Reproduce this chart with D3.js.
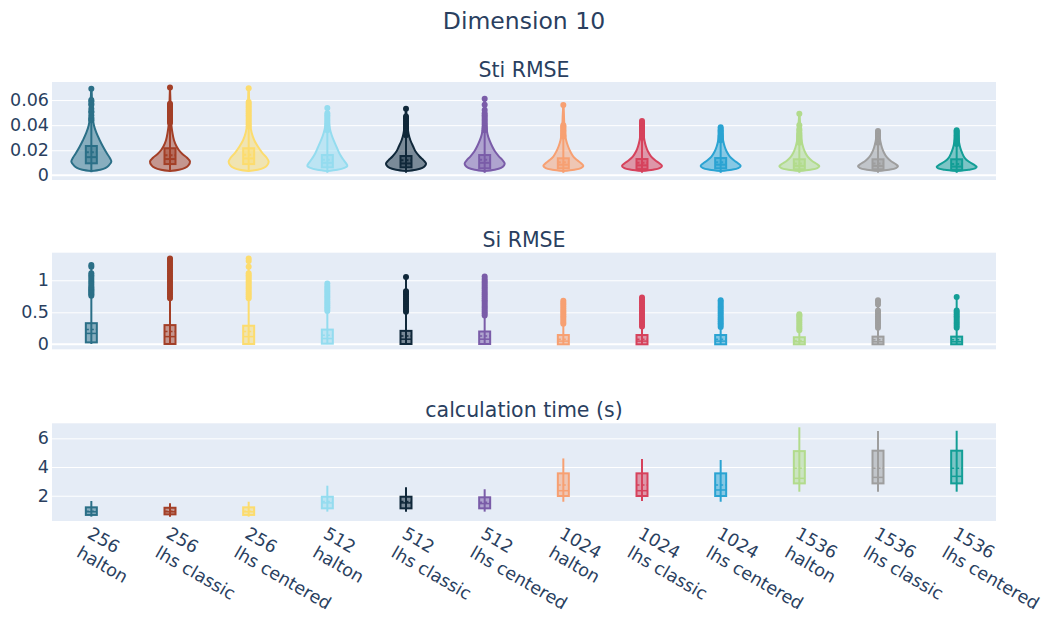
<!DOCTYPE html>
<html>
<head>
<meta charset="utf-8">
<script src="https://cdn.jsdelivr.net/npm/d3@7/dist/d3.min.js"></script>
<style>
  body { margin: 0; background: #fff; }
  svg { display: block; }
  text { font-family: Verdana, "DejaVu Sans", sans-serif; fill: #2a3f5f; }
</style>
</head>
<body>
<svg id="chart" width="1046" height="622"></svg>
<script>
// ---- categories -------------------------------------------------------
const sampleSizes = ["256", "256", "256", "512", "512", "512", "1024", "1024", "1024", "1536", "1536", "1536"];
const methods = ["halton", "lhs classic", "lhs centered", "halton", "lhs classic", "lhs centered",
                 "halton", "lhs classic", "lhs centered", "halton", "lhs classic", "lhs centered"];
const colors = ["#2b6f87", "#a33f27", "#fcdc6e", "#94dcef", "#10283a", "#7a5ca8",
                "#f7a072", "#d6425c", "#2aa3d2", "#b2db8c", "#9e9e9e", "#139e96"];

// ---- Sti RMSE (violins) ----------------------------------------------
const stiQ1     = [0.0096, 0.009, 0.009, 0.0064, 0.0064, 0.0056, 0.0056, 0.005, 0.0056, 0.0048, 0.0048, 0.0042];
const stiMedian = [0.0145, 0.013, 0.0135, 0.010, 0.0095, 0.010, 0.0085, 0.008, 0.0085, 0.0075, 0.0075, 0.007];
const stiMean   = [0.0185, 0.016, 0.0165, 0.0125, 0.012, 0.0125, 0.0105, 0.010, 0.0105, 0.0095, 0.0095, 0.009];
const stiQ3     = [0.0234, 0.0216, 0.0216, 0.0162, 0.0154, 0.0162, 0.0136, 0.013, 0.0138, 0.0128, 0.0128, 0.0128];
const stiMin    = [0.0025, 0.003, 0.003, 0.002, 0.002, 0.002, 0.002, 0.002, 0.002, 0.002, 0.002, 0.002];
const stiMax    = [0.069, 0.070, 0.0695, 0.0536, 0.053, 0.061, 0.056, 0.0434, 0.0384, 0.049, 0.0354, 0.036];
// density outline of each violin: [value, relative half-width]
const stiDensity = [
  [[0.0035,0],[0.0045,0.45],[0.006,0.72],[0.008,0.88],[0.011,1],[0.014,0.92],[0.018,0.76],[0.023,0.58],[0.028,0.42],[0.034,0.25],[0.04,0.13],[0.046,0.07],[0.052,0.045],[0.06,0.03],[0.0695,0]],
  [[0.0035,0],[0.0045,0.45],[0.006,0.75],[0.008,0.92],[0.011,1],[0.014,0.85],[0.017,0.62],[0.02,0.45],[0.023,0.33],[0.028,0.2],[0.034,0.12],[0.04,0.07],[0.046,0.045],[0.055,0.03],[0.0705,0]],
  [[0.0035,0],[0.0045,0.45],[0.006,0.75],[0.008,0.92],[0.011,1],[0.014,0.9],[0.018,0.68],[0.023,0.46],[0.028,0.28],[0.034,0.15],[0.04,0.08],[0.048,0.05],[0.058,0.03],[0.070,0]],
  [[0.0035,0],[0.0045,0.5],[0.006,0.85],[0.0075,1],[0.01,0.92],[0.013,0.78],[0.017,0.62],[0.022,0.48],[0.027,0.34],[0.032,0.22],[0.037,0.13],[0.043,0.07],[0.048,0.04],[0.054,0]],
  [[0.0035,0],[0.0045,0.5],[0.006,0.82],[0.008,0.97],[0.0095,1],[0.012,0.88],[0.015,0.68],[0.019,0.48],[0.023,0.36],[0.028,0.22],[0.033,0.13],[0.04,0.07],[0.046,0.04],[0.0535,0]],
  [[0.0035,0],[0.0045,0.5],[0.006,0.82],[0.008,0.97],[0.0095,1],[0.012,0.9],[0.015,0.72],[0.019,0.52],[0.023,0.38],[0.028,0.24],[0.033,0.14],[0.04,0.08],[0.048,0.045],[0.055,0.03],[0.0615,0]],
  [[0.0035,0],[0.0045,0.55],[0.0058,0.88],[0.0075,1],[0.0095,0.9],[0.012,0.7],[0.015,0.5],[0.019,0.35],[0.023,0.24],[0.028,0.14],[0.034,0.08],[0.04,0.05],[0.048,0.03],[0.0565,0]],
  [[0.0035,0],[0.0045,0.55],[0.0058,0.88],[0.0075,1],[0.0095,0.88],[0.012,0.66],[0.015,0.46],[0.019,0.3],[0.023,0.2],[0.028,0.12],[0.034,0.07],[0.039,0.05],[0.044,0]],
  [[0.0035,0],[0.0045,0.55],[0.0058,0.88],[0.0075,1],[0.0095,0.88],[0.012,0.66],[0.015,0.46],[0.019,0.3],[0.023,0.2],[0.028,0.12],[0.033,0.08],[0.039,0]],
  [[0.0035,0],[0.0045,0.55],[0.0058,0.9],[0.0072,1],[0.009,0.88],[0.0115,0.64],[0.0145,0.44],[0.018,0.3],[0.022,0.2],[0.027,0.12],[0.033,0.07],[0.04,0.045],[0.0495,0]],
  [[0.0035,0],[0.0045,0.55],[0.0058,0.9],[0.0072,1],[0.009,0.88],[0.0115,0.64],[0.0145,0.44],[0.018,0.3],[0.022,0.2],[0.027,0.12],[0.031,0.08],[0.036,0]],
  [[0.0035,0],[0.0045,0.6],[0.0055,0.92],[0.0068,1],[0.0085,0.86],[0.011,0.6],[0.014,0.4],[0.018,0.27],[0.022,0.18],[0.027,0.11],[0.031,0.08],[0.0365,0]]
];
const stiOutliers = [
  [0.044,0.045,0.046,0.048,0.050,0.051,0.053,0.056,0.057,0.059,0.060,0.069],
  [0.042,0.043,0.044,0.045,0.046,0.047,0.048,0.049,0.050,0.051,0.052,0.053,0.054,0.055,0.056,0.057,0.070],
  [0.039,0.0405,0.042,0.0435,0.045,0.0465,0.048,0.0495,0.051,0.0525,0.054,0.0555,0.057,0.0585,0.0695],
  [0.036,0.0375,0.039,0.0405,0.042,0.0435,0.045,0.0465,0.048,0.0495,0.0536],
  [0.032,0.0335,0.035,0.0365,0.038,0.0395,0.041,0.0425,0.044,0.0455,0.047,0.053],
  [0.036,0.0375,0.039,0.0405,0.042,0.0435,0.045,0.0465,0.048,0.0495,0.052,0.0562,0.061],
  [0.031,0.032,0.033,0.034,0.035,0.036,0.037,0.038,0.039,0.040,0.056],
  [0.030,0.031,0.032,0.033,0.034,0.035,0.036,0.037,0.038,0.039,0.040,0.041,0.042,0.0434],
  [0.028,0.029,0.030,0.031,0.032,0.033,0.034,0.035,0.036,0.037,0.0384],
  [0.026,0.027,0.028,0.029,0.030,0.031,0.032,0.033,0.034,0.0357,0.037,0.040,0.049],
  [0.026,0.027,0.028,0.029,0.030,0.031,0.032,0.033,0.034,0.0354],
  [0.025,0.026,0.027,0.028,0.029,0.030,0.031,0.032,0.033,0.034,0.035,0.036]
];

// ---- Si RMSE (boxes with outliers) -------------------------------------
const siQ1      = [0.03, 0.005, 0.005, 0.01, 0.005, 0.005, 0.0, 0.0, 0.0, 0.0, 0.0, 0.0];
const siMedian  = [0.17, 0.12, 0.12, 0.09, 0.08, 0.08, 0.05, 0.05, 0.05, 0.04, 0.04, 0.04];
const siMean    = [0.23, 0.20, 0.20, 0.14, 0.13, 0.13, 0.08, 0.08, 0.08, 0.06, 0.07, 0.07];
const siQ3      = [0.33, 0.30, 0.29, 0.23, 0.21, 0.20, 0.145, 0.145, 0.145, 0.11, 0.12, 0.12];
const siMin     = [0.005, 0.003, 0.003, 0.003, 0.003, 0.003, 0.002, 0.002, 0.002, 0.002, 0.002, 0.002];
const siMax     = [1.24, 1.34, 1.34, 0.95, 1.05, 1.06, 0.68, 0.73, 0.69, 0.47, 0.69, 0.74];
const siOutliers = [
  [0.76,0.78,0.80,0.82,0.84,0.86,0.88,0.90,0.93,0.96,0.99,1.02,1.05,1.08,1.11,1.21,1.24],
  [0.72,0.75,0.78,0.81,0.84,0.87,0.90,0.93,0.96,0.99,1.02,1.05,1.08,1.11,1.14,1.17,1.20,1.23,1.26,1.29,1.32,1.34],
  [0.72,0.75,0.78,0.81,0.84,0.87,0.90,0.93,0.96,0.99,1.02,1.05,1.08,1.11,1.21,1.30,1.34],
  [0.52,0.55,0.58,0.61,0.64,0.67,0.70,0.73,0.76,0.79,0.82,0.85,0.88,0.91,0.95],
  [0.51,0.54,0.57,0.60,0.63,0.66,0.69,0.72,0.75,0.78,0.81,0.83,1.05],
  [0.45,0.48,0.51,0.54,0.57,0.60,0.63,0.66,0.69,0.72,0.75,0.78,0.81,0.84,0.87,0.90,0.93,0.96,0.99,1.02,1.06],
  [0.32,0.35,0.38,0.41,0.44,0.47,0.50,0.53,0.56,0.59,0.62,0.65,0.68],
  [0.28,0.31,0.34,0.37,0.40,0.43,0.46,0.49,0.52,0.55,0.58,0.61,0.64,0.67,0.70,0.73],
  [0.27,0.30,0.33,0.36,0.39,0.42,0.45,0.48,0.51,0.54,0.57,0.60,0.63,0.66,0.69],
  [0.22,0.25,0.28,0.31,0.34,0.37,0.40,0.43,0.45,0.47],
  [0.26,0.29,0.32,0.35,0.38,0.41,0.44,0.47,0.50,0.53,0.62,0.66,0.69],
  [0.26,0.29,0.32,0.35,0.38,0.41,0.44,0.47,0.50,0.53,0.74]
];

// ---- calculation time (boxes) ----------------------------------------
const timeQ1     = [0.66, 0.70, 0.66, 1.12, 1.12, 1.12, 1.98, 1.98, 1.98, 2.86, 2.86, 2.86];
const timeMedian = [0.88, 0.88, 0.88, 1.50, 1.50, 1.45, 2.35, 2.35, 2.40, 3.21, 3.28, 3.35];
const timeMean   = [0.92, 0.92, 0.92, 1.60, 1.60, 1.55, 2.75, 2.75, 2.75, 3.91, 3.91, 3.91];
const timeQ3     = [1.19, 1.16, 1.19, 1.93, 1.93, 1.89, 3.56, 3.56, 3.56, 5.11, 5.14, 5.14];
const timeMin    = [0.54, 0.54, 0.54, 0.89, 0.89, 0.89, 1.58, 1.63, 1.58, 2.28, 2.28, 2.28];
const timeMax    = [1.63, 1.47, 1.58, 2.70, 2.59, 2.45, 4.60, 4.56, 4.49, 6.77, 6.51, 6.53];

// ---- tick labels -------------------------------------------------------
const stiTicks  = [0, 0.02, 0.04, 0.06];
const siTicks   = [0, 0.5, 1];
const timeTicks = [2, 4, 6];

// ---- layout ------------------------------------------------------------
const svg = d3.select("#chart");
const left = 52, right = 996;
const x = d3.scaleBand().domain(d3.range(sampleSizes.length)).range([left, right]);
const cx = i => x(i) + x.bandwidth() / 2;

const panels = [
  { title: "Sti RMSE", titleY: 77, y: d3.scaleLinear().domain([-0.0037, 0.0744]).range([180, 82]),
    ticks: stiTicks, zero: true },
  { title: "Si RMSE", titleY: 247, y: d3.scaleLinear().domain([-0.078, 1.431]).range([349.3, 252.7]),
    ticks: siTicks, zero: true },
  { title: "calculation time (s)", titleY: 417, y: d3.scaleLinear().domain([0.237, 7.05]).range([521, 423.3]),
    ticks: timeTicks, zero: false }
];

svg.append("text").attr("x", (left + right) / 2).attr("y", 29)
  .attr("text-anchor", "middle").style("font-size", "23.5px").text("Dimension 10");

panels.forEach(p => {
  const [y0, y1] = p.y.range();
  svg.append("rect").attr("x", left).attr("y", y1).attr("width", right - left).attr("height", y0 - y1)
    .attr("fill", "#e5ecf6");
  const grid = svg.append("g").attr("transform", `translate(${left},0)`)
    .call(d3.axisLeft(p.y).tickValues(p.ticks.filter(t => t !== 0 || !p.zero)).tickSize(-(right - left)).tickFormat(""));
  grid.select(".domain").remove();
  grid.selectAll("line").attr("stroke", "#fff").attr("stroke-width", 1);
  if (p.zero) {
    svg.append("line").attr("x1", left).attr("x2", right).attr("y1", p.y(0)).attr("y2", p.y(0))
      .attr("stroke", "#fff").attr("stroke-width", 2);
  }
  const ax = svg.append("g").attr("transform", `translate(${left},0)`)
    .call(d3.axisLeft(p.y).tickValues(p.ticks).tickSize(0).tickPadding(3).tickFormat(d => String(d)));
  ax.select(".domain").remove();
  ax.selectAll("text").style("font-size", "17.5px").style("font-family", 'Verdana, "DejaVu Sans", sans-serif')
    .attr("fill", "#2a3f5f");
  svg.append("text").attr("x", (left + right) / 2).attr("y", p.titleY)
    .attr("text-anchor", "middle").style("font-size", "20.5px").text(p.title);
});

const boxHalf = 5.5, violinHalf = 20, dotR = 3;

// ---- Sti violins -------------------------------------------------------
const yS = panels[0].y;
const gSti = svg.append("g");
sampleSizes.forEach((_, i) => {
  const c = cx(i), col = colors[i];
  const g = gSti.append("g");
  const area = d3.area()
    .y(d => yS(d[0]))
    .x0(d => c - d[1] * violinHalf)
    .x1(d => c + d[1] * violinHalf)
    .curve(d3.curveCatmullRom.alpha(0.5));
  g.append("path").datum(stiDensity[i]).attr("d", area)
    .attr("fill", col).attr("fill-opacity", 0.5)
    .attr("stroke", col).attr("stroke-width", 2).attr("stroke-linejoin", "round");
  g.append("line").attr("x1", c).attr("x2", c).attr("y1", yS(stiMin[i])).attr("y2", yS(stiMax[i]))
    .attr("stroke", col).attr("stroke-width", 2);
  g.selectAll("circle").data(stiOutliers[i]).join("circle")
    .attr("cx", c).attr("cy", d => yS(d)).attr("r", dotR).attr("fill", col);
  g.append("rect").attr("x", c - boxHalf).attr("width", 2 * boxHalf)
    .attr("y", yS(stiQ3[i])).attr("height", yS(stiQ1[i]) - yS(stiQ3[i]))
    .attr("fill", col).attr("fill-opacity", 0.5).attr("stroke", col).attr("stroke-width", 2);
  g.append("line").attr("x1", c - boxHalf).attr("x2", c + boxHalf)
    .attr("y1", yS(stiMedian[i])).attr("y2", yS(stiMedian[i])).attr("stroke", col).attr("stroke-width", 2);
  g.append("line").attr("x1", c - boxHalf).attr("x2", c + boxHalf)
    .attr("y1", yS(stiMean[i])).attr("y2", yS(stiMean[i])).attr("stroke", col).attr("stroke-width", 2)
    .attr("stroke-dasharray", "3,2");
});

// ---- Si boxes ----------------------------------------------------------
const yR = panels[1].y;
const gSi = svg.append("g");
sampleSizes.forEach((_, i) => {
  const c = cx(i), col = colors[i];
  const g = gSi.append("g");
  g.append("line").attr("x1", c).attr("x2", c).attr("y1", yR(siMin[i])).attr("y2", yR(siMax[i]))
    .attr("stroke", col).attr("stroke-width", 2);
  g.selectAll("circle").data(siOutliers[i]).join("circle")
    .attr("cx", c).attr("cy", d => yR(d)).attr("r", dotR).attr("fill", col);
  g.append("rect").attr("x", c - boxHalf).attr("width", 2 * boxHalf)
    .attr("y", yR(siQ3[i])).attr("height", yR(siQ1[i]) - yR(siQ3[i]))
    .attr("fill", col).attr("fill-opacity", 0.5).attr("stroke", col).attr("stroke-width", 2);
  g.append("line").attr("x1", c - boxHalf).attr("x2", c + boxHalf)
    .attr("y1", yR(siMedian[i])).attr("y2", yR(siMedian[i])).attr("stroke", col).attr("stroke-width", 1.5);
  g.append("line").attr("x1", c - boxHalf).attr("x2", c + boxHalf)
    .attr("y1", yR(siMean[i])).attr("y2", yR(siMean[i])).attr("stroke", col).attr("stroke-width", 1.5)
    .attr("stroke-dasharray", "3,2");
});

// ---- calculation time boxes -------------------------------------------
const yT = panels[2].y;
const gT = svg.append("g");
sampleSizes.forEach((_, i) => {
  const c = cx(i), col = colors[i];
  const g = gT.append("g");
  g.append("line").attr("x1", c).attr("x2", c).attr("y1", yT(timeMin[i])).attr("y2", yT(timeMax[i]))
    .attr("stroke", col).attr("stroke-width", 2);
  g.append("rect").attr("x", c - boxHalf).attr("width", 2 * boxHalf)
    .attr("y", yT(timeQ3[i])).attr("height", yT(timeQ1[i]) - yT(timeQ3[i]))
    .attr("fill", col).attr("fill-opacity", 0.5).attr("stroke", col).attr("stroke-width", 2);
  g.append("line").attr("x1", c - boxHalf).attr("x2", c + boxHalf)
    .attr("y1", yT(timeMedian[i])).attr("y2", yT(timeMedian[i])).attr("stroke", col).attr("stroke-width", 1.5);
  g.append("line").attr("x1", c - boxHalf).attr("x2", c + boxHalf)
    .attr("y1", yT(timeMean[i])).attr("y2", yT(timeMean[i])).attr("stroke", col).attr("stroke-width", 1.5)
    .attr("stroke-dasharray", "3,2");
});

// ---- category labels (two lines, rotated) -----------------------------
const labels = svg.append("g");
sampleSizes.forEach((s, i) => {
  const t = labels.append("text")
    .attr("transform", `translate(${cx(i) - 5},537) rotate(30)`)
    .style("font-size", "17.5px");
  t.append("tspan").attr("x", 0).attr("y", 0).text(s);
  t.append("tspan").attr("x", 0).attr("dy", "1.25em").text(methods[i]);
});
</script>
</body>
</html>
